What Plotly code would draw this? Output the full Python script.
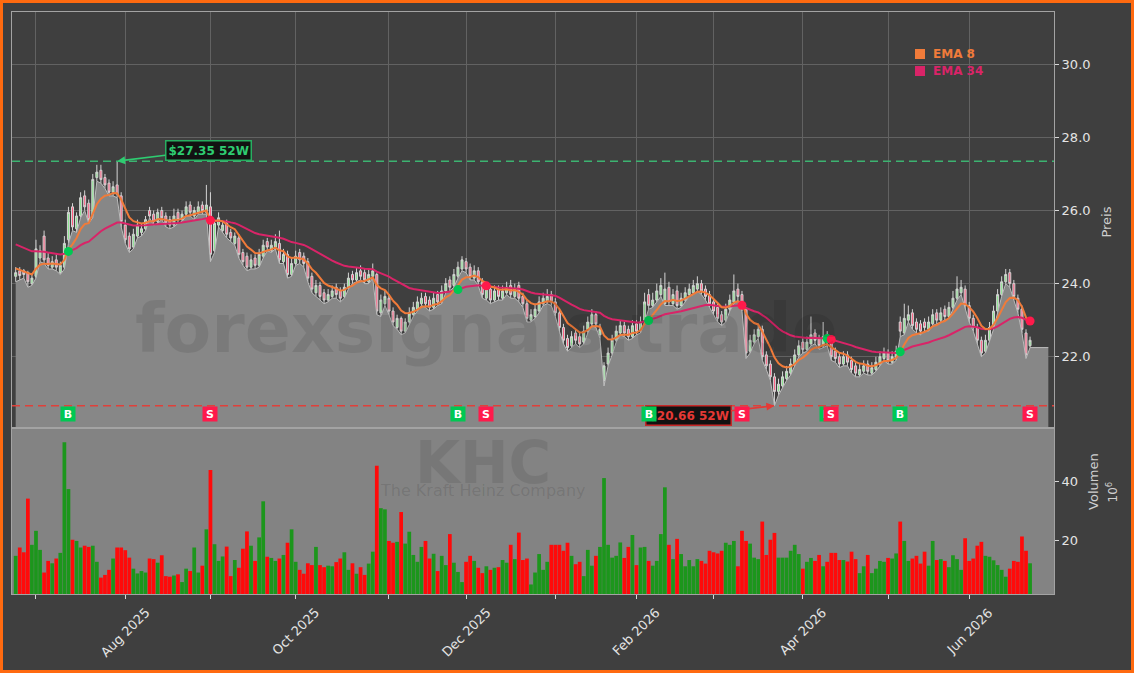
import pandas as pd
import plotly.graph_objects as go

# ---------------- data ----------------
start_date = "2025-06-24"
holidays = ["2025-07-04", "2025-09-01", "2025-11-27", "2025-12-25", "2026-01-01",
            "2026-01-19", "2026-02-16", "2026-04-03", "2026-05-25", "2026-06-19"]

opens = [24.20, 24.35, 24.35, 24.30, 24.00, 24.20, 24.70, 25.30, 24.70, 24.45,
         24.65, 24.30, 24.45, 25.20, 26.10, 25.50, 25.85, 26.40, 26.20, 25.85,
         26.90, 27.10, 26.90, 26.75, 26.50, 26.70, 26.40, 25.60, 25.30, 25.00,
         25.30, 25.40, 25.50, 26.00, 25.90, 25.70, 26.00, 25.85, 25.75, 25.60,
         25.95, 25.75, 25.90, 26.15, 25.85, 25.95, 26.15, 25.95, 26.10, 24.90,
         25.60, 25.45, 25.65, 25.40, 25.10, 25.25, 24.85, 24.75, 24.45, 24.70,
         24.50, 24.75, 25.15, 24.90, 25.00, 25.10, 24.60, 24.80, 24.25, 24.55,
         24.85, 24.75, 24.60, 24.20, 23.75, 23.95, 23.75, 23.55, 23.65, 23.90,
         23.80, 23.65, 23.90, 24.25, 24.10, 24.35, 24.30, 24.05, 24.20, 24.25,
         23.20, 23.45, 23.60, 23.25, 22.80, 23.05, 22.70, 22.95, 23.15, 23.30,
         23.45, 23.65, 23.55, 23.35, 23.70, 23.50, 23.80, 24.10, 23.95, 24.20,
         24.40, 24.60, 24.45, 24.15, 24.35, 24.05, 23.60, 23.85, 23.55, 23.85,
         23.60, 23.75, 23.95, 23.65, 23.95, 23.65, 23.45, 23.00, 23.10, 23.25,
         23.45, 23.50, 23.70, 23.50, 23.20, 22.80, 22.50, 22.30, 22.65, 22.55,
         22.40, 22.70, 22.90, 23.15, 22.60, 21.35, 21.80, 22.10, 22.45, 22.65,
         22.85, 22.75, 22.55, 22.90, 22.70, 23.00, 23.70, 23.40, 23.55, 23.70,
         23.45, 23.90, 23.45, 23.80, 23.40, 23.55, 23.70, 23.75, 23.85, 24.00,
         23.85, 23.70, 23.50, 23.35, 23.15, 23.00, 23.30, 23.50, 23.85, 23.70,
         23.30, 22.15, 22.40, 22.55, 22.75, 22.05, 21.80, 21.45, 21.05, 21.20,
         21.40, 21.55, 21.80, 22.05, 22.40, 22.20, 22.35, 22.65, 22.50, 22.30,
         22.60, 22.40, 22.15, 22.00, 21.80, 22.05, 21.90, 21.75, 21.50, 21.60,
         21.80, 21.55, 21.65, 21.80, 21.95, 22.10, 21.85, 21.95, 22.95, 22.65,
         23.00, 23.20, 22.95, 22.90, 22.95, 22.75, 22.90, 23.20, 23.00, 23.30,
         23.10, 23.35, 23.60, 23.75, 23.85, 23.40, 23.05, 22.80, 22.45, 22.15,
         22.45, 22.80, 23.25, 23.70, 24.05, 24.30, 24.00, 23.60, 23.30, 22.65,
         22.30]

highs = [24.45, 24.45, 24.40, 24.35, 24.25, 25.20, 25.05, 25.45, 24.85, 24.75,
         24.80, 24.60, 25.30, 26.10, 26.20, 25.95, 26.50, 26.55, 26.30, 27.00,
         27.25, 27.25, 27.00, 26.85, 26.80, 27.35, 26.50, 25.75, 25.40, 25.50,
         25.75, 25.65, 25.85, 26.10, 26.00, 26.05, 26.10, 25.95, 25.85, 26.05,
         26.05, 26.00, 26.25, 26.25, 26.10, 26.25, 26.25, 26.70, 26.50, 25.75,
         25.95, 25.70, 25.75, 25.50, 25.40, 25.35, 24.95, 24.85, 24.80, 24.80,
         24.95, 25.20, 25.25, 25.20, 25.35, 25.45, 24.95, 24.90, 24.70, 24.90,
         24.95, 24.85, 24.70, 24.30, 24.10, 24.05, 23.85, 23.85, 23.95, 24.00,
         23.90, 24.00, 24.30, 24.35, 24.45, 24.50, 24.40, 24.40, 24.55, 24.30,
         23.70, 23.80, 23.70, 23.35, 23.15, 23.10, 23.05, 23.35, 23.50, 23.65,
         23.75, 23.75, 23.65, 23.75, 23.80, 23.95, 24.15, 24.20, 24.40, 24.60,
         24.75, 24.70, 24.55, 24.50, 24.45, 24.15, 23.95, 23.95, 23.95, 23.95,
         23.95, 24.05, 24.10, 24.00, 24.05, 23.75, 23.55, 23.30, 23.45, 23.65,
         23.75, 23.85, 23.80, 23.60, 23.30, 22.90, 22.60, 22.70, 22.75, 22.65,
         22.85, 23.10, 23.30, 23.25, 22.90, 21.85, 22.25, 22.60, 22.85, 23.00,
         22.95, 22.85, 23.00, 23.00, 23.10, 23.75, 23.85, 23.75, 24.00, 24.15,
         24.30, 24.05, 23.85, 23.95, 23.75, 23.90, 24.00, 24.10, 24.20, 24.10,
         23.95, 23.80, 23.60, 23.45, 23.25, 23.45, 23.70, 24.25, 24.00, 23.80,
         23.35, 22.60, 22.75, 22.90, 22.85, 22.15, 21.90, 21.55, 21.40, 21.60,
         21.75, 21.95, 22.20, 22.45, 22.50, 22.55, 23.10, 22.75, 22.60, 22.95,
         22.70, 22.45, 22.25, 22.10, 22.15, 22.15, 22.00, 21.85, 21.80, 21.90,
         21.90, 21.85, 22.00, 22.15, 22.25, 22.20, 22.15, 22.30, 23.10, 23.45,
         23.40, 23.30, 23.05, 23.00, 23.05, 23.10, 23.30, 23.30, 23.35, 23.40,
         23.50, 23.80, 24.20, 24.10, 23.95, 23.50, 23.15, 22.90, 22.55, 22.60,
         22.95, 23.40, 23.85, 24.20, 24.40, 24.40, 24.10, 23.70, 23.40, 22.75,
         22.55]

lows = [24.05, 24.10, 24.15, 23.90, 23.95, 24.15, 24.60, 24.55, 24.40, 24.40,
        24.35, 24.25, 24.40, 25.10, 25.45, 25.40, 25.80, 26.00, 25.65, 25.80,
        26.80, 26.75, 26.60, 26.40, 26.40, 26.35, 25.55, 25.10, 24.85, 24.95,
        25.25, 25.30, 25.45, 25.80, 25.60, 25.65, 25.75, 25.55, 25.50, 25.55,
        25.65, 25.70, 25.85, 25.85, 25.75, 25.90, 25.90, 25.90, 24.60, 24.85,
        25.55, 25.40, 25.25, 25.15, 25.05, 24.70, 24.50, 24.35, 24.40, 24.40,
        24.45, 24.70, 24.90, 24.85, 24.95, 24.55, 24.55, 24.15, 24.20, 24.50,
        24.55, 24.45, 24.05, 23.75, 23.65, 23.55, 23.45, 23.50, 23.60, 23.60,
        23.50, 23.60, 23.85, 24.00, 24.05, 24.10, 24.00, 24.00, 24.15, 23.15,
        23.10, 23.40, 23.15, 22.85, 22.75, 22.60, 22.65, 22.90, 23.10, 23.25,
        23.40, 23.35, 23.25, 23.30, 23.40, 23.45, 23.75, 23.80, 23.90, 24.15,
        24.35, 24.30, 24.10, 24.10, 23.95, 23.60, 23.55, 23.45, 23.50, 23.55,
        23.55, 23.70, 23.60, 23.60, 23.50, 23.35, 22.95, 22.95, 23.05, 23.20,
        23.40, 23.45, 23.40, 23.10, 22.70, 22.35, 22.15, 22.25, 22.35, 22.25,
        22.35, 22.65, 22.85, 22.80, 22.50, 21.20, 21.75, 22.05, 22.40, 22.60,
        22.55, 22.45, 22.50, 22.60, 22.65, 22.95, 23.30, 23.35, 23.50, 23.65,
        23.40, 23.40, 23.40, 23.30, 23.35, 23.50, 23.65, 23.70, 23.80, 23.70,
        23.55, 23.35, 23.15, 22.95, 22.85, 22.95, 23.25, 23.45, 23.55, 23.25,
        21.95, 22.10, 22.35, 22.50, 21.90, 21.65, 21.35, 20.66, 20.95, 21.15,
        21.35, 21.50, 21.75, 22.00, 22.10, 22.15, 22.30, 22.35, 22.20, 22.25,
        22.30, 21.90, 21.85, 21.70, 21.75, 21.75, 21.55, 21.45, 21.45, 21.55,
        21.50, 21.50, 21.60, 21.75, 21.90, 21.80, 21.80, 21.90, 22.55, 22.60,
        22.95, 22.75, 22.65, 22.60, 22.70, 22.70, 22.85, 22.90, 22.95, 23.00,
        23.05, 23.30, 23.55, 23.70, 23.30, 22.95, 22.70, 22.35, 22.00, 22.10,
        22.40, 22.75, 23.20, 23.65, 24.00, 23.90, 23.55, 23.20, 22.65, 21.95,
        22.25]

closes = [24.30, 24.22, 24.25, 24.05, 24.15, 24.95, 24.90, 24.65, 24.50, 24.60,
          24.45, 24.50, 25.10, 25.95, 25.55, 25.85, 26.35, 26.10, 25.75, 26.85,
          27.05, 26.85, 26.70, 26.50, 26.65, 26.45, 25.70, 25.20, 24.95, 25.35,
          25.60, 25.50, 25.75, 25.85, 25.70, 25.95, 25.80, 25.65, 25.60, 25.85,
          25.75, 25.90, 26.10, 25.95, 26.00, 26.10, 26.00, 26.15, 24.80, 25.65,
          25.80, 25.60, 25.35, 25.25, 25.30, 24.80, 24.60, 24.45, 24.65, 24.50,
          24.80, 25.05, 25.00, 25.05, 25.15, 24.65, 24.80, 24.25, 24.55, 24.75,
          24.65, 24.55, 24.15, 23.85, 23.95, 23.65, 23.55, 23.70, 23.80, 23.70,
          23.60, 23.90, 24.15, 24.10, 24.30, 24.20, 24.10, 24.25, 24.35, 23.25,
          23.55, 23.65, 23.25, 22.95, 23.05, 22.70, 22.95, 23.20, 23.35, 23.50,
          23.60, 23.45, 23.35, 23.60, 23.50, 23.80, 24.00, 23.90, 24.25, 24.45,
          24.65, 24.40, 24.20, 24.35, 24.05, 23.70, 23.85, 23.55, 23.80, 23.65,
          23.80, 23.90, 23.70, 23.85, 23.60, 23.45, 23.05, 23.15, 23.30, 23.50,
          23.60, 23.65, 23.50, 23.20, 22.80, 22.45, 22.25, 22.55, 22.45, 22.35,
          22.70, 22.95, 23.15, 22.90, 22.75, 21.75, 22.10, 22.45, 22.70, 22.85,
          22.65, 22.55, 22.85, 22.70, 22.95, 23.50, 23.40, 23.55, 23.80, 23.95,
          23.85, 23.50, 23.70, 23.40, 23.60, 23.75, 23.85, 23.95, 24.00, 23.80,
          23.65, 23.45, 23.25, 23.05, 22.95, 23.30, 23.55, 23.80, 23.65, 23.35,
          22.10, 22.45, 22.60, 22.75, 22.00, 21.75, 21.45, 21.05, 21.25, 21.45,
          21.60, 21.80, 22.05, 22.30, 22.20, 22.40, 22.60, 22.45, 22.30, 22.55,
          22.40, 22.00, 21.95, 21.80, 22.00, 21.85, 21.65, 21.55, 21.65, 21.75,
          21.60, 21.70, 21.85, 22.00, 22.10, 21.90, 22.00, 22.15, 22.70, 23.05,
          23.15, 22.85, 22.75, 22.70, 22.80, 22.95, 23.15, 23.00, 23.20, 23.10,
          23.35, 23.60, 23.85, 23.90, 23.40, 23.05, 22.80, 22.45, 22.10, 22.45,
          22.80, 23.25, 23.70, 24.05, 24.25, 24.00, 23.65, 23.30, 22.75, 22.05,
          22.45]

# volume in millions of shares
volumes = [14.9, 17.7, 16.1, 34.1, 18.6, 23.3, 16.9, 9.3, 13.2, 12.4,
           14.0, 15.9, 53.0, 37.3, 20.3, 19.9, 17.7, 18.3, 17.9, 18.3,
           12.9, 7.6, 8.5, 10.2, 14.0, 17.7, 17.7, 16.8, 14.3, 10.6,
           9.0, 9.8, 9.3, 14.0, 13.8, 12.6, 15.1, 8.1, 7.9, 8.3,
           8.7, 6.1, 10.6, 9.8, 17.7, 9.3, 11.6, 23.8, 43.7, 18.8,
           13.2, 14.7, 18.0, 8.1, 13.5, 10.9, 17.3, 23.1, 18.3, 13.2,
           21.1, 33.2, 14.6, 14.2, 13.2, 14.0, 15.2, 19.3, 23.8, 12.9,
           10.2, 8.9, 12.4, 11.8, 17.9, 11.8, 11.1, 11.6, 11.4, 12.8,
           14.0, 16.1, 10.2, 12.4, 8.9, 11.1, 8.5, 12.3, 16.3, 45.1,
           30.9, 30.5, 19.9, 19.3, 19.6, 29.6, 19.0, 23.0, 15.2, 12.9,
           17.9, 19.9, 14.0, 15.6, 9.8, 14.9, 11.8, 22.2, 12.6, 9.5,
           6.1, 12.9, 14.9, 13.2, 10.9, 9.1, 11.4, 10.2, 10.9, 11.1,
           13.5, 12.6, 18.6, 13.8, 22.7, 13.5, 14.0, 5.3, 9.3, 15.5,
           10.2, 12.9, 18.6, 18.6, 18.6, 16.6, 19.3, 14.9, 12.1, 12.9,
           8.1, 16.9, 11.6, 14.9, 17.9, 41.0, 18.6, 14.3, 14.9, 19.4,
           14.2, 17.9, 21.9, 11.8, 17.7, 17.9, 13.2, 11.6, 13.2, 22.2,
           37.9, 18.6, 13.8, 20.6, 15.5, 11.4, 13.5, 11.4, 13.8, 13.2,
           12.3, 16.6, 16.1, 15.7, 16.6, 19.3, 18.6, 19.9, 11.4, 23.3,
           19.9, 19.0, 14.3, 13.8, 26.4, 15.2, 20.3, 22.6, 14.3, 14.3,
           14.3, 16.6, 18.6, 15.5, 10.6, 12.9, 14.2, 13.2, 15.2, 11.4,
           12.9, 15.9, 15.9, 13.5, 13.5, 13.0, 16.3, 13.8, 9.1, 11.4,
           15.2, 9.1, 10.6, 13.2, 12.9, 14.2, 14.0, 15.7, 26.4, 19.9,
           13.2, 14.0, 14.9, 12.3, 16.3, 11.6, 19.9, 13.5, 13.8, 13.2,
           11.1, 15.1, 13.8, 10.2, 20.8, 13.2, 14.0, 18.3, 19.6, 14.9,
           14.6, 13.4, 11.8, 10.2, 7.9, 10.6, 13.2, 12.9, 21.4, 16.6,
           12.4]

# EMA crossover signals (bar indices) and EMA start values
buy_idx = [13, 109, 156, 200, 218]
sell_idx = [48, 116, 179, 201, 250]
ema8_seed = 24.45
ema34_seed = 25.12

ticker = "KHC"
company = "The Kraft Heinz Company"
watermark = "forexsignals.trade"

# ---------------- styling ----------------
BG = "#3f3f3f"
GRID = "#626262"
FRAME = "#a3a3a3"
TXT = "#e4e4e4"
C_EMA8 = "#f07b3a"
C_EMA34 = "#d92468"
C_BUY = "#00c853"
C_SELL = "#ff1a4b"
VOL_UP = "#1c961c"
VOL_DN = "#ff0a0a"
FONT = "DejaVu Sans"

n = len(closes)
idx = list(range(n))
dates = pd.bdate_range(start=start_date, periods=n, freq="C", holidays=holidays)


def ema(values, span, seed):
    a = 2.0 / (span + 1.0)
    out, prev = [], seed
    for v in values:
        prev = prev + a * (v - prev)
        out.append(prev)
    return out


ema8 = ema(closes, 8, ema8_seed)
ema34 = ema(closes, 34, ema34_seed)
vol_colors = [VOL_UP if c >= o else VOL_DN for o, c in zip(opens, closes)]

month_idx = [i for i in range(1, n) if dates[i].month != dates[i - 1].month]
label_idx = [i for i in month_idx if dates[i].month % 2 == 0]
label_txt = [dates[i].strftime("%b %Y") for i in label_idx]

high_52w = max(highs)
low_52w = min(lows)
hi_i = highs.index(high_52w)
lo_i = lows.index(low_52w)

signal_level = 20.43
tail_len = 4.5
vol_frac = 166 / 582

fig = go.Figure()

# gray area under the lows, extended a little past the last bar
fig.add_trace(go.Scatter(
    x=idx + [n - 1 + tail_len], y=lows + [lows[-1]], mode="lines",
    fill="tozeroy", fillcolor="#878787",
    line=dict(color="#bcbcbc", width=1), hoverinfo="skip",
    xaxis="x", yaxis="y"))

fig.add_trace(go.Candlestick(
    x=idx, open=opens, high=highs, low=lows, close=closes,
    increasing=dict(line=dict(color="#d4d4d4", width=1), fillcolor="#8be68f"),
    decreasing=dict(line=dict(color="#d4d4d4", width=1), fillcolor="#ff5c80"),
    whiskerwidth=0, xaxis="x", yaxis="y", hoverinfo="skip"))

fig.add_trace(go.Scatter(x=idx, y=ema34, mode="lines",
                         line=dict(color=C_EMA34, width=2), xaxis="x", yaxis="y"))
fig.add_trace(go.Scatter(x=idx, y=ema8, mode="lines",
                         line=dict(color=C_EMA8, width=2), xaxis="x", yaxis="y"))
fig.add_trace(go.Scatter(x=buy_idx, y=[ema34[i] for i in buy_idx], mode="markers",
                         marker=dict(color=C_BUY, size=9), xaxis="x", yaxis="y"))
fig.add_trace(go.Scatter(x=sell_idx, y=[ema34[i] for i in sell_idx], mode="markers",
                         marker=dict(color=C_SELL, size=9), xaxis="x", yaxis="y"))

fig.add_trace(go.Bar(x=idx, y=volumes, marker=dict(color=vol_colors, line=dict(width=0)),
                     xaxis="x2", yaxis="y2"))

axis_common = dict(showline=True, mirror=True, linecolor=FRAME, linewidth=1, zeroline=False)

fig.update_layout(
    width=1134, height=673,
    margin=dict(l=12, r=80, t=12, b=79),
    paper_bgcolor=BG, plot_bgcolor=BG,
    showlegend=False, bargap=0.08,
    font=dict(family=FONT, color=TXT, size=13),
    xaxis=dict(domain=[0, 1], anchor="y", range=[-0.91, 255.9],
               tickvals=month_idx, showticklabels=False, ticks="",
               showgrid=True, gridcolor=GRID, gridwidth=1,
               rangeslider=dict(visible=False), **axis_common),
    xaxis2=dict(domain=[0, 1], anchor="y2", matches="x",
                tickvals=month_idx, showticklabels=False,
                ticks="outside", ticklen=4, tickcolor="#d8d8d8",
                showgrid=False, **axis_common),
    yaxis=dict(domain=[vol_frac, 1], anchor="x", side="right", range=[20.05, 31.43],
               tick0=0, dtick=2, tickformat=".1f", ticks="outside", ticklen=4,
               tickcolor="#d8d8d8", showgrid=True, gridcolor=GRID, gridwidth=1,
               tickfont=dict(size=13, color=TXT), **axis_common),
    yaxis2=dict(domain=[0, vol_frac], anchor="x2", side="right", range=[2.1, 57.8],
                tickvals=[20, 40], ticks="outside", ticklen=4, tickcolor="#d8d8d8",
                showgrid=False, tickfont=dict(size=13, color=TXT), **axis_common),
)

shapes = [
    # volume panel background
    dict(type="rect", xref="x2 domain", yref="y2 domain", x0=0, x1=1, y0=0, y1=1,
         fillcolor="#838383", line=dict(width=0), layer="below"),
    # 52-week high / low lines
    dict(type="line", xref="x domain", yref="y", x0=0, x1=1, y0=high_52w, y1=high_52w,
         line=dict(color="#3cb371", width=1.5, dash="8px,5px"), layer="above"),
    dict(type="line", xref="x domain", yref="y", x0=0, x1=1, y0=low_52w, y1=low_52w,
         line=dict(color="#e0403a", width=1.5, dash="8px,5px"), layer="above"),
    # legend squares
    dict(type="rect", xref="paper", yref="paper", x0=0.8666, x1=0.8762, y0=0.9192, y1=0.9364,
         fillcolor=C_EMA8, line=dict(width=0)),
    dict(type="rect", xref="paper", yref="paper", x0=0.8666, x1=0.8762, y0=0.8900, y1=0.9072,
         fillcolor=C_EMA34, line=dict(width=0)),
    # orange frame around the figure
    dict(type="rect", xref="paper", yref="paper",
         x0=-10.5 / 1042, x1=1 + 78.5 / 1042, y0=-77.5 / 582, y1=1 + 10.5 / 582,
         line=dict(color="#ff6a10", width=3), fillcolor="rgba(0,0,0,0)"),
]
fig.update_layout(shapes=shapes)

ann = []
# watermarks
ann.append(dict(xref="paper", yref="paper", x=0.455, y=0.456, text="<b>%s</b>" % watermark,
                showarrow=False, font=dict(family=FONT, size=68, color="rgba(0,0,0,0.09)")))
ann.append(dict(xref="paper", yref="paper", x=0.452, y=0.163, text="<b>%s</b>" % ticker,
                showarrow=False, font=dict(family=FONT, size=58, color="rgba(0,0,0,0.09)")))
ann.append(dict(xref="paper", yref="paper", x=0.452, y=0.158, text=company,
                showarrow=False, font=dict(family=FONT, size=16, color="rgba(0,0,0,0.11)")))

# month labels (centred under their tick, rotated 45 degrees)
for i, t in zip(label_idx, label_txt):
    ann.append(dict(x=i, y=-0.014, xref="x2", yref="paper", text=t, textangle=-45,
                    xanchor="center", yanchor="top", showarrow=False,
                    font=dict(size=13, color=TXT)))

# legend texts
ann.append(dict(xref="paper", yref="paper", x=0.882, y=0.9278, xanchor="left", yanchor="middle",
                text="<b>EMA 8</b>", showarrow=False, font=dict(size=12, color=C_EMA8)))
ann.append(dict(xref="paper", yref="paper", x=0.882, y=0.8986, xanchor="left", yanchor="middle",
                text="<b>EMA 34</b>", showarrow=False, font=dict(size=12, color=C_EMA34)))

# axis titles
ann.append(dict(xref="paper", yref="paper", x=1.0595, y=0.639, text="Preis", textangle=-90,
                showarrow=False, font=dict(size=13, color="#cfcfcf")))
ann.append(dict(xref="paper", yref="paper", x=1.0470, y=0.141, text="Volumen", textangle=-90,
                showarrow=False, font=dict(size=13, color="#cfcfcf")))
ann.append(dict(xref="paper", yref="paper", x=1.0653, y=0.153, text="10<sup>6</sup>", textangle=-90,
                showarrow=False, font=dict(size=12, color="#cfcfcf")))

# 52W labels
ann.append(dict(x=hi_i, y=high_52w, xref="x", yref="y", text="<b>$%.2f 52W</b>" % high_52w,
                showarrow=True, arrowhead=2, arrowsize=1, arrowwidth=1.6, arrowcolor="#2ecc71",
                ax=91, ay=-11, font=dict(size=12, color="#2ecc71"),
                bgcolor="#121212", bordercolor="#27ae60", borderwidth=1.5, borderpad=2))
ann.append(dict(x=lo_i, y=low_52w, xref="x", yref="y", text="<b>$%.2f 52W</b>" % low_52w,
                showarrow=True, arrowhead=2, arrowsize=1, arrowwidth=1.6, arrowcolor="#e53935",
                ax=-86, ay=10, font=dict(size=12, color="#e53935"),
                bgcolor="#121212", bordercolor="#c62828", borderwidth=1.5, borderpad=2))

# buy / sell boxes
for i in buy_idx:
    ann.append(dict(x=i, y=signal_level, xref="x", yref="y", text="<b>B</b>", showarrow=False,
                    font=dict(size=11, color="white"), bgcolor=C_BUY, width=12, height=12,
                    borderpad=1))
for i in sell_idx:
    ann.append(dict(x=i, y=signal_level, xref="x", yref="y", text="<b>S</b>", showarrow=False,
                    font=dict(size=11, color="white"), bgcolor=C_SELL, width=12, height=12,
                    borderpad=1))

fig.update_layout(annotations=ann)

fig.write_html("out.html")
